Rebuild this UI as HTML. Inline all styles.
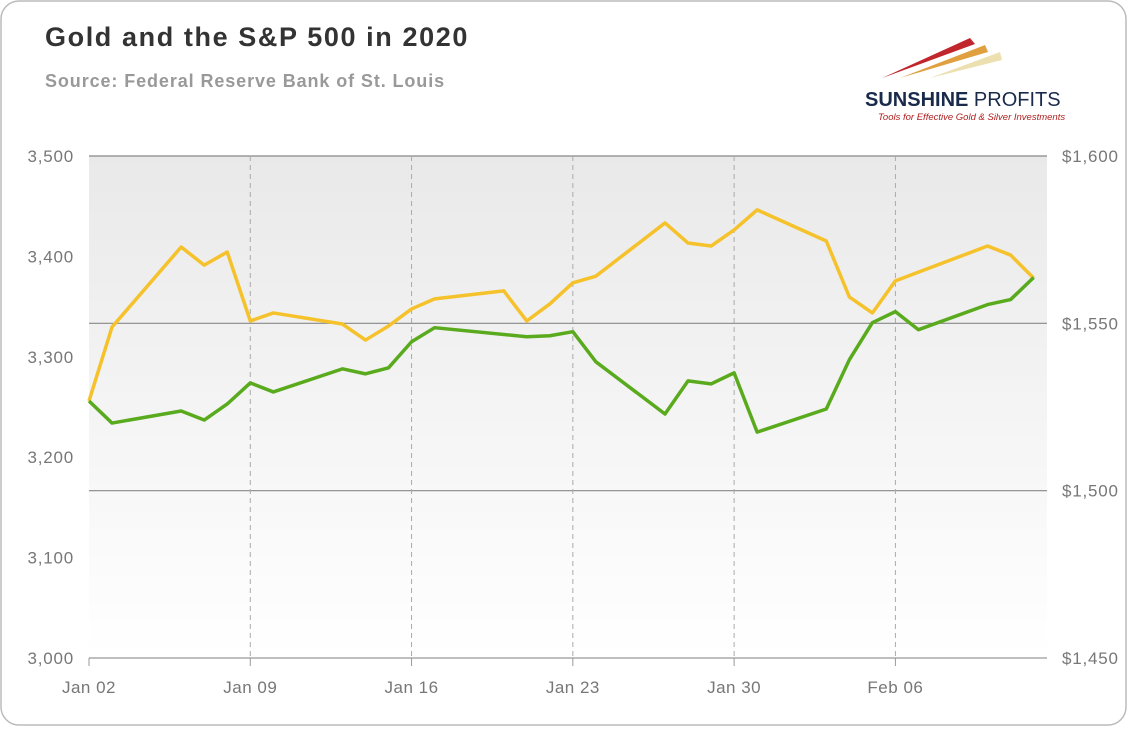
<!DOCTYPE html>
<html><head><meta charset="utf-8"><style>
body{margin:0;background:#fff;font-family:"Liberation Sans",sans-serif}
#wrap{position:relative;width:1127px;height:726px}
</style></head><body>
<div id="wrap">
<svg id="chart" width="1127" height="726">
<defs><linearGradient id="bg" x1="0" y1="0" x2="0" y2="1"><stop offset="0" stop-color="#e9e9e9"/><stop offset="1" stop-color="#ffffff"/></linearGradient></defs>
<rect x="1" y="1" width="1125" height="724" rx="18" fill="#fff" stroke="#bbb" stroke-width="1.5"/>
<text x="45" y="46" font-size="27" font-weight="bold" fill="#333" letter-spacing="1.6">Gold and the S&amp;P 500 in 2020</text>
<text x="45" y="87" font-size="18" font-weight="bold" fill="#999" letter-spacing="0.9">Source: Federal Reserve Bank of St. Louis</text>
<g>
<polygon points="882,78 970,38 975,44" fill="#c0262c"/>
<polygon points="900,78 985,45 988,52" fill="#e0a040"/>
<polygon points="930,78 1000,52 1002,60" fill="#ece0b0"/>
<text x="865" y="106" font-size="20" font-weight="bold" fill="#1a2a4a">SUNSHINE <tspan font-weight="normal">PROFITS</tspan></text>
<text x="878" y="120" font-size="9.5" font-style="italic" fill="#b02020">Tools for Effective Gold &amp; Silver Investments</text>
</g>
<rect x="89" y="156" width="958" height="502" fill="url(#bg)"/>
<g id="grid"></g><g id="axes"></g><g id="series"></g>
</svg>
</div>
<script>
const spDays=[0,1,4,5,6,7,8,11,12,13,14,15,19,20,21,22,25,26,27,28,29,32,33,34,35,36,39,40,41];
const spValues=[3256,3234,3246,3237,3253,3274,3265,3288,3283,3289,3315,3329,3320,3321,3325,3295,3243,3276,3273,3284,3225,3248,3297,3334,3345,3327,3352,3357,3379];
const goldDays=[0,1,4,5,6,7,8,11,12,13,14,15,18,19,20,21,22,25,26,27,28,29,32,33,34,35,36,39,40,41];
const goldValues=[1526.8,1548.9,1572.8,1567.4,1571.3,1550.7,1553.1,1549.8,1545.0,1549.2,1554.3,1557.3,1559.7,1550.7,1555.8,1562.1,1564.1,1580.0,1574.0,1573.1,1577.9,1583.9,1574.6,1557.9,1553.1,1562.7,1565.3,1573.1,1570.4,1563.5];
const leftTicks=[3000,3100,3200,3300,3400,3500];
const rightTicks=[1450,1500,1550,1600];
const xTickDays=[0,7,14,21,28,35];
const xTickLabels=["Jan 02","Jan 09","Jan 16","Jan 23","Jan 30","Feb 06"];
const NS="http://www.w3.org/2000/svg";
const X=d=>89+d*23.04;
const YL=v=>658-(v-3000)/500*502;
const YR=v=>658-(v-1450)/150*502;
function mk(t,a,p){const e=document.createElementNS(NS,t);for(const k in a)e.setAttribute(k,a[k]);document.getElementById(p).appendChild(e);return e;}
rightTicks.forEach(v=>{
 const l=mk('line',{x1:89,x2:1047,y1:YR(v),y2:YR(v),stroke:v==1450?'#999':'#888','stroke-width':1.2},'grid');
 
 
 const t=mk('text',{x:1062,y:YR(v)+6,'font-size':17,fill:'#777','letter-spacing':0.8},'axes');t.textContent='$'+v.toLocaleString('en-US');
 
 
});
leftTicks.forEach(v=>{
 const t=mk('text',{x:74,y:YL(v)+6,'font-size':17,fill:'#777','text-anchor':'end','letter-spacing':0.8},'axes');t.textContent=v.toLocaleString('en-US');
 
 
});
xTickDays.forEach((d,i)=>{
 if(d>0){const l=mk('line',{x1:X(d),x2:X(d),y1:156,y2:658,stroke:'#aaa','stroke-dasharray':'5,4','stroke-width':1},'grid');
 
 }
 const tk=mk('line',{x1:X(d),x2:X(d),y1:658,y2:666,stroke:'#999'},'axes');
 
 
 const t=mk('text',{x:X(d),y:693,'font-size':17,fill:'#777','text-anchor':'middle','letter-spacing':0.5},'axes');t.textContent=xTickLabels[i];
 
 
});
const gp=mk('polyline',{points:goldDays.map((d,i)=>X(d)+','+YR(goldValues[i])).join(' '),fill:'none',stroke:'#f5c22b','stroke-width':3.5,'stroke-linejoin':'round'},'series');


const sp=mk('polyline',{points:spDays.map((d,i)=>X(d)+','+YL(spValues[i])).join(' '),fill:'none',stroke:'#5aaa1e','stroke-width':3.5,'stroke-linejoin':'round'},'series');


</script>
</body></html>
